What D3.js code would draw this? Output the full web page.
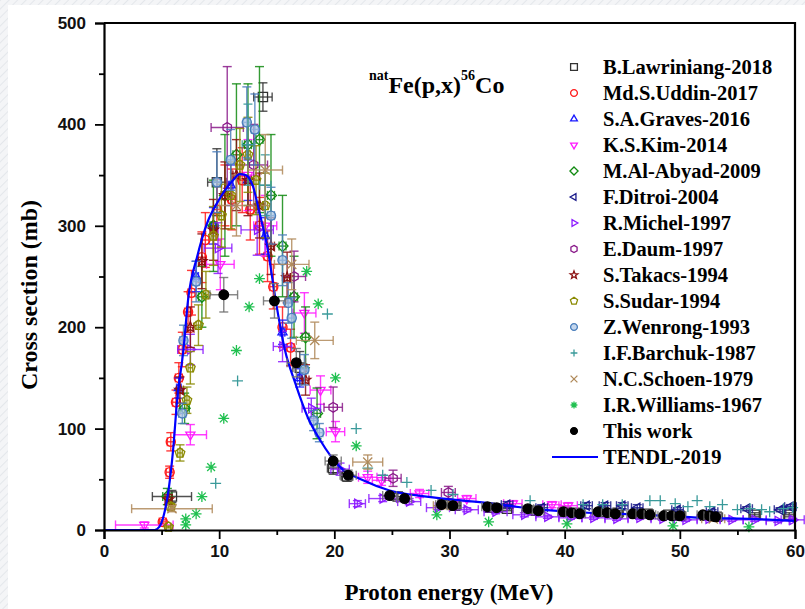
<!DOCTYPE html>
<html>
<head>
<meta charset="utf-8">
<script src="https://cdn.jsdelivr.net/npm/d3@7"></script>
<style>
  body { margin: 0; background: #fff; }
  svg { display: block; }
</style>
</head>
<body>
<div id="chart"></div>
<script>
// each point: [energy MeV, cross section mb, dE, dSigma]
const lawriniang = [[5.9,33,1.7,6],[9.8,343,0.8,33],[13.8,427,0.8,14],[17.0,160,0.6,16],[19.9,61,0.5,6],[21.1,53,0.5,5],
  [25.5,33,0.5,3],[29.5,26,0.5,3],[30.5,24,0.5,3],[33.5,22,0.5,2],[35.0,21,0.5,2],[37.5,19,0.5,2],[40.0,18,0.5,2],[41.2,17,0.5,2],
  [43.3,18,0.5,2],[44.6,17,0.5,2],[46.2,16,0.5,2],[47.2,16,0.5,2],[49.0,15,0.5,2],[50.0,14,0.5,2],[52.2,14,0.5,2],[53.2,13,0.5,2],
  [56.5,15,0.5,2],[59.5,15,0.5,2]];
const uddin = [[5.1,8,0.3,2],[5.7,57,0.3,6],[5.8,87,0.3,9],[6.25,126,0.3,12],[6.5,150,0.3,15],[6.8,178,0.3,17],[7.3,215,0.3,20],
  [7.6,234,0.3,22],[8.5,269,0.3,25],[8.8,286,0.3,27],[9.8,316,0.3,30],[10.5,330,0.3,30],[11.1,326,0.3,30],[12.0,345,0.3,32],
  [12.7,316,0.3,30],[13.5,300,0.3,28],[14.2,270,0.3,25],[14.7,240,0.3,22],[15.5,200,0.3,20],[16.2,180,0.3,18]];
const graves = [[6.5,140,0.2,10],[8.0,250,0.2,15],[9.5,300,0.2,18],[11.0,340,0.2,20],[12.5,345,0.2,20],[14.0,290,0.2,18],
  [15.5,195,0.2,12],[17.0,150,0.2,9]];
const kim = [[3.5,5,2.5,3],[7.5,94,1.4,10],[10.1,262,1.2,25],[12.5,350,1.0,35],[14.0,300,1.0,30],[17.4,214,1.0,20],[18.8,138,0.9,14],
  [20.1,97,0.8,10],[22.9,52,0.8,6],[24.1,49,0.8,5],[27.4,36,0.8,4],[31.5,31,0.8,3],[35.5,26,0.8,3],[38.9,25,0.8,3],[40.3,24,0.8,3]];
const alAbyad = [[5.5,33,0.4,8],[7.0,120,0.4,15],[8.5,230,0.3,30],[9.5,300,0.3,45],[10.5,330,0.3,60],[11.5,370,0.3,70],
  [12.5,380,0.3,60],[13.5,385,0.3,72],[14.5,330,0.3,60],[15.5,280,0.3,50],[16.5,230,0.3,40],[17.5,190,0.3,30],[18.5,115,0.3,25]];
const ditroi = [[35.0,25,0.5,3],[38.0,22,0.5,3],[41.9,24,0.5,3],[43.5,24,0.5,3],[45.0,24,0.5,3],[46.3,22,0.5,3],[49.8,20,0.5,2],
  [52.8,18,0.5,2],[55.8,21,0.5,2],[58.7,20,0.5,2],[59.6,23,0.5,2]];
const michel = [[7.5,178,1.1,15],[9.9,278,1.2,25],[13.3,296,1.4,25],[15.5,181,0.8,15],[18.0,120,0.8,10],[20.5,60,0.8,6],
  [22.0,26,0.7,3],[24.2,31,1.2,3],[26.5,28,1.0,3],[29.0,22,1.0,2],[31.5,20,1.0,2],[34.0,18,1.0,2],[36.5,15,1.0,2],[38.5,13,1.0,1.5],
  [40.5,12,1.0,1.5],[42.5,12,1.0,1.5],[44.5,11,1.0,1.5],[46.5,12,1.0,1.5],[48.5,11,1.0,1.5],[50.5,10,1.0,1.5],[52.5,11,1.0,1.5],
  [54.5,10,1.0,1.5],[56.5,10,1.0,1.5],[58.5,9,1.0,1.5],[59.8,10,1.0,1.5]];
const daum = [[10.7,397,1.4,60],[13.0,360,1.2,40],[16.5,250,1.0,25],[19.9,121,0.8,20],[25.1,51,0.7,8],[29.9,37,0.6,6]];
const takacs = [[5.6,30,0.3,5],[6.6,138,0.3,13],[7.5,200,0.3,20],[8.5,265,0.3,27],[9.5,296,0.3,30],[10.5,330,0.3,33],
  [11.5,350,0.3,35],[12.5,345,0.3,35],[13.5,320,0.3,32],[14.5,280,0.3,28],[15.9,249,0.3,25],[17.5,148,0.3,15]];
const sudar = [[5.6,3,0.2,1],[5.8,23,0.2,3],[6.6,76,0.2,8],[7.2,128,0.2,13],[7.5,160,0.2,16],[8.2,202,0.2,20],[8.85,232,0.2,23],
  [9.5,290,0.2,29],[10.2,310,0.2,31],[11.0,330,0.2,33],[11.8,360,0.2,36],[12.5,370,0.2,37],[13.2,345,0.2,34],[14.0,320,0.2,32]];
const wenrong = [[6.8,115,0.3,10],[6.9,187,0.3,15],[8.0,245,0.3,20],[9.8,343,0.3,30],[11.0,365,0.3,30],[12.4,402,0.3,35],
  [13.1,395,0.3,35],[14.5,310,0.3,28],[15.5,266,0.3,25],[16.0,224,0.3,20],[16.3,209,0.3,20],[17.4,158,0.3,15],[18.2,108,0.3,10],
  [18.7,96,0.3,9]];
const barchuk = [[9.7,46,0,0],[11.6,147,0,0],[12.5,380,0.5,40],[14.0,340,0.5,30],[19.4,213,0,0],[21.9,100,0,0],[22.9,61,0,0],
  [24.2,54,0,0],[26.3,47,0,0],[28.4,39,0,0],[30.3,35,0,0],[37.0,29,0,0],[41.6,25,0,0],[43.3,25,0,0],[45.0,25,0,0],[47.4,29,0,0],
  [48.3,29,0,0],[49.6,26,0,0],[50.7,23,0,0],[51.5,29,0,0],[52.6,23,0,0],[53.7,25,0,0],[55.0,20,0,0],[56.1,21,0,0],[57.1,20,0,0],
  [57.8,18,0,0],[59.0,21,0,0],[59.8,22,0,0]];
const schoen = [[5.9,21,3.5,3],[11.5,320,1.5,30],[14.0,355,1.5,35],[16.3,262,1.5,25],[18.3,187,1.6,18],[22.9,67,1.3,7],
  [29.6,24,1.0,3],[52.9,11,1.0,2]];
const williams = [[7.1,5,0,0],[7.1,11,0,0],[8.0,16,0,0],[8.5,33,0,0],[9.3,62,0,0],[10.4,110,0,0],[11.5,177,0,0],[12.6,220,0,0],
  [13.5,248,0,0],[17.6,255,0,0],[18.6,223,0,0],[20.1,150,0,0],[21.9,83,0,0],[28.9,15,0,0],[33.4,8,0,0],[40.2,6,0,0],[49.4,4,0,0],
  [56.0,3,0,0]];
const thisWork = [[10.4,232,1.2,17],[14.8,226,0.95,17],[16.7,165,0.8,14],[19.9,68,0.7,6],[21.2,54,0.7,5],[24.8,34,0.6,3],
  [26.1,31,0.6,3],[29.3,25,0.5,2],[30.3,24,0.5,2],[33.3,23,0.5,2],[34.1,22,0.5,2],[36.8,21,0.5,2],[37.7,19,0.5,2],[39.9,18,0.5,2],
  [40.6,17,0.5,2],[41.3,16,0.5,2],[42.9,18,0.5,2],[43.7,17,0.5,2],[44.4,16,0.5,2],[45.9,16,0.5,2],[46.7,16,0.5,2],[47.4,15,0.5,2],
  [48.6,14,0.5,2],[49.3,14,0.5,2],[50.0,14,0.5,2],[52.0,15,0.5,2],[52.6,14,0.5,2],[53.1,13,0.5,2]];
const tendlE = [0,4.4,4.8,5.2,5.6,6.0,6.35,6.9,7.3,8.1,9.0,10.0,10.5,11.2,11.8,12.3,12.9,13.5,14.2,14.9,15.7,16.6,17.7,18.75,
  20.5,22.5,24.8,28,33,38,42,47,52,56,60];
const tendlS = [0,0,3,15,39,79,128,178,227,270,304,326,335,345,351,350,340,313,278,227,178,145,111,89,
  62,49,39,33,27,20,17,15,12,11,9];
const xTicks = [0,10,20,30,40,50,60];
const yTicks = [0,100,200,300,400,500];

const series = [
  {name:"B.Lawriniang-2018", data:lawriniang, color:"#333333", shape:"square"},
  {name:"Md.S.Uddin-2017", data:uddin, color:"#ff1a1a", shape:"circle"},
  {name:"S.A.Graves-2016", data:graves, color:"#1a1aff", shape:"triUp"},
  {name:"K.S.Kim-2014", data:kim, color:"#ff1aff", shape:"triDown"},
  {name:"M.Al-Abyad-2009", data:alAbyad, color:"#108a10", shape:"diamond"},
  {name:"F.Ditroi-2004", data:ditroi, color:"#1a1a8a", shape:"triLeft"},
  {name:"R.Michel-1997", data:michel, color:"#8c1aff", shape:"triRight"},
  {name:"E.Daum-1997", data:daum, color:"#8a1a8a", shape:"hexagon"},
  {name:"S.Takacs-1994", data:takacs, color:"#8a0f0f", shape:"star"},
  {name:"S.Sudar-1994", data:sudar, color:"#8a8a00", shape:"pentagon"},
  {name:"Z.Wenrong-1993", data:wenrong, color:"#4a7ebb", shape:"halfCircle"},
  {name:"I.F.Barchuk-1987", data:barchuk, color:"#3a9a9a", shape:"plus"},
  {name:"N.C.Schoen-1979", data:schoen, color:"#b08a5a", shape:"times"},
  {name:"I.R.Williams-1967", data:williams, color:"#20c050", shape:"asterisk"}
];

const width = 805, height = 609;
const margin = {top: 23, right: 10, bottom: 79, left: 104};
const plotW = 795 - margin.left, plotH = 530 - margin.top;

const svg = d3.select("#chart").append("svg")
  .attr("width", width).attr("height", height);

// faint slide background at the left edge
const defs = svg.append("defs");
const pat = defs.append("pattern").attr("id", "stripes").attr("patternUnits", "userSpaceOnUse")
  .attr("width", 6).attr("height", 6).attr("patternTransform", "rotate(45)");
pat.append("rect").attr("width", 6).attr("height", 6).attr("fill", "#f4f5f7");
pat.append("line").attr("x1", 0).attr("y1", 0).attr("x2", 0).attr("y2", 6).attr("stroke", "#e4e7eb").attr("stroke-width", 2);
svg.append("rect").attr("x", 0).attr("y", 0).attr("width", 8).attr("height", height).attr("fill", "url(#stripes)");
svg.append("rect").attr("x", 0).attr("y", 0).attr("width", width).attr("height", 5).attr("fill", "url(#stripes)");

const x = d3.scaleLinear().domain([0, 60]).range([margin.left, margin.left + plotW]);
const y = d3.scaleLinear().domain([0, 500]).range([margin.top + plotH, margin.top]);

function poly(n, r, rot) {
  const pts = d3.range(n).map(i => {
    const a = rot + i * 2 * Math.PI / n;
    return [r * Math.sin(a), -r * Math.cos(a)];
  });
  return "M" + pts.map(p => p[0].toFixed(2) + "," + p[1].toFixed(2)).join("L") + "Z";
}
function star(r) {
  const pts = d3.range(10).map(i => {
    const rr = i % 2 ? r * 0.42 : r;
    const a = i * Math.PI / 5;
    return [rr * Math.sin(a), -rr * Math.cos(a)];
  });
  return "M" + pts.map(p => p[0].toFixed(2) + "," + p[1].toFixed(2)).join("L") + "Z";
}
function shapePath(shape, r) {
  switch (shape) {
    case "square": return `M${-r},${-r}h${2*r}v${2*r}h${-2*r}Z`;
    case "circle": case "halfCircle": case "dot": return d3.symbol(d3.symbolCircle, Math.PI * r * r)();
    case "triUp": return poly(3, r * 1.15, 0);
    case "triDown": return poly(3, r * 1.15, Math.PI);
    case "triLeft": return poly(3, r * 1.15, -Math.PI / 2);
    case "triRight": return poly(3, r * 1.15, Math.PI / 2);
    case "diamond": return poly(4, r * 1.2, 0);
    case "hexagon": return poly(6, r * 1.05, 0);
    case "pentagon": return poly(5, r * 1.1, 0);
    case "star": return star(r * 1.2);
    case "plus": return `M${-r},0H${r}M0,${-r}V${r}`;
    case "times": return `M${-r},${-r}L${r},${r}M${-r},${r}L${r},${-r}`;
    case "asterisk": {
      const d = r * 0.72;
      return `M${-r},0H${r}M0,${-r}V${r}M${-d},${-d}L${d},${d}M${-d},${d}L${d},${-d}`;
    }
  }
}
function drawSymbol(g, shape, color, r) {
  const p = g.append("path").attr("d", shapePath(shape, r))
    .attr("stroke", color).attr("stroke-width", 1.3);
  if (shape === "dot") p.attr("fill", color);
  else if (shape === "halfCircle") p.attr("fill", "#a9c4e6").attr("fill-opacity", 0.7);
  else p.attr("fill", "none");
  return p;
}

const plot = svg.append("g");

function drawSeries(s, barColor, r) {
  const g = plot.append("g");
  const cap = 4.5;
  s.data.forEach(d => {
    const cx = x(d[0]), cy = y(d[1]);
    const eb = g.append("g").attr("stroke", barColor).attr("stroke-width", 1.4).attr("stroke-opacity", 0.85);
    if (d[3] > 0) {
      const y0 = y(d[1] - d[3]), y1 = y(Math.min(d[1] + d[3], 500));
      eb.append("line").attr("x1", cx).attr("x2", cx).attr("y1", y0).attr("y2", y1);
      eb.append("line").attr("x1", cx - cap).attr("x2", cx + cap).attr("y1", y0).attr("y2", y0);
      eb.append("line").attr("x1", cx - cap).attr("x2", cx + cap).attr("y1", y1).attr("y2", y1);
    }
    if (d[2] > 0) {
      const x0 = x(Math.max(d[0] - d[2], 0)), x1 = x(d[0] + d[2]);
      eb.append("line").attr("x1", x0).attr("x2", x1).attr("y1", cy).attr("y2", cy);
      eb.append("line").attr("x1", x0).attr("x2", x0).attr("y1", cy - cap).attr("y2", cy + cap);
      eb.append("line").attr("x1", x1).attr("x2", x1).attr("y1", cy - cap).attr("y2", cy + cap);
    }
    const rr = (s.shape === "asterisk" || s.shape === "plus") ? r + 0.8 : r;
    drawSymbol(g.append("g").attr("transform", `translate(${cx},${cy})`), s.shape, s.color, rr);
  });
}

series.forEach(s => drawSeries(s, s.color, 4.6));

// TENDL-2019 curve
const tendl = tendlE.map((e, i) => [e, tendlS[i]]);
plot.append("path").datum(tendl)
  .attr("fill", "none").attr("stroke", "#0000ff").attr("stroke-width", 2.2)
  .attr("d", d3.line().x(d => x(d[0])).y(d => y(d[1])).curve(d3.curveMonotoneX));

drawSeries({name:"This work", data:thisWork, color:"#000", shape:"dot"}, "#6e6e6e", 4.8);

// axes
const axisFont = "'Liberation Sans', Arial, sans-serif";
svg.append("g").attr("transform", `translate(0,${margin.top + plotH})`)
  .call(d3.axisBottom(x).tickValues(xTicks).tickSize(9).tickPadding(6).tickFormat(d3.format("d")));
svg.append("g").attr("transform", `translate(0,${margin.top + plotH})`)
  .call(d3.axisBottom(x).tickValues(d3.range(5, 60, 10)).tickSize(5).tickFormat(""))
  .call(g => g.select(".domain").remove());
svg.append("g").attr("transform", `translate(${margin.left},0)`)
  .call(d3.axisLeft(y).tickValues(yTicks).tickSize(9).tickPadding(9));
svg.append("g").attr("transform", `translate(${margin.left},0)`)
  .call(d3.axisLeft(y).tickValues(d3.range(50, 500, 100)).tickSize(5).tickFormat(""))
  .call(g => g.select(".domain").remove());
svg.selectAll(".domain").attr("stroke-width", 2.2);
svg.selectAll(".tick line").attr("stroke-width", 1.8);
svg.selectAll(".tick text").attr("font-family", axisFont).attr("font-weight", "bold")
  .attr("font-size", 17).attr("fill", "#111");

// frame top and right
svg.append("path")
  .attr("d", `M${margin.left},${margin.top}H${margin.left + plotW}V${margin.top + plotH}`)
  .attr("fill", "none").attr("stroke", "#000").attr("stroke-width", 2.2);

const serif = "'Liberation Serif', 'Times New Roman', serif";
svg.append("text").attr("x", 449).attr("y", 600).attr("text-anchor", "middle")
  .attr("font-family", serif).attr("font-weight", "bold").attr("font-size", 23)
  .text("Proton energy (MeV)");
svg.append("text").attr("transform", "translate(37,295) rotate(-90)").attr("text-anchor", "middle")
  .attr("font-family", serif).attr("font-weight", "bold").attr("font-size", 24)
  .text("Cross section (mb)");

// reaction label
const title = svg.append("text").attr("x", 369).attr("y", 93)
  .attr("font-family", serif).attr("font-weight", "bold").attr("font-size", 24);
title.append("tspan").attr("font-size", 14).attr("dy", -13).text("nat");
title.append("tspan").attr("dy", 13).text("Fe(p,x)");
title.append("tspan").attr("font-size", 14).attr("dy", -13).text("56");
title.append("tspan").attr("dy", 13).text("Co");

// legend
const legend = svg.append("g");
const rowH = 26, ly0 = 67;
series.concat([{name:"This work", shape:"dot", color:"#000"}]).forEach((s, i) => {
  const gy = ly0 + i * rowH;
  drawSymbol(legend.append("g").attr("transform", `translate(574,${gy})`), s.shape, s.color, 3.4);
  legend.append("text").attr("x", 603).attr("y", gy + 7)
    .attr("font-family", serif).attr("font-weight", "bold").attr("font-size", 20.5).text(s.name);
});
const ty = ly0 + 15 * rowH;
legend.append("line").attr("x1", 552).attr("x2", 598).attr("y1", ty).attr("y2", ty)
  .attr("stroke", "#0000ff").attr("stroke-width", 2);
legend.append("text").attr("x", 603).attr("y", ty + 7)
  .attr("font-family", serif).attr("font-weight", "bold").attr("font-size", 20.5).text("TENDL-2019");
</script>
</body>
</html>
